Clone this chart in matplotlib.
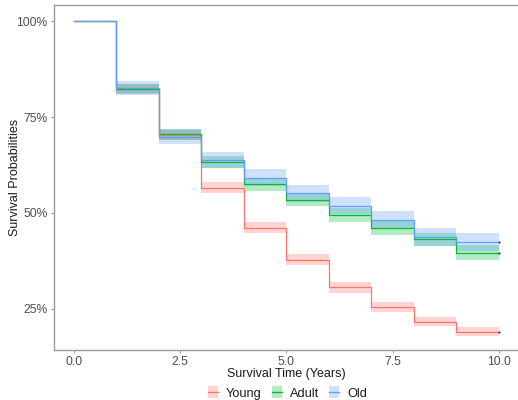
import matplotlib
matplotlib.use("Agg")
import matplotlib.pyplot as plt
import numpy as np
from matplotlib.lines import Line2D
from matplotlib.patches import Patch
from matplotlib.ticker import FuncFormatter

plt.rcParams["font.family"] = ["Liberation Sans", "DejaVu Sans"]

# step start times (years)
times = [0, 1, 2, 3, 4, 5, 6, 7, 8, 9, 10]

groups = ["Young", "Adult", "Old"]
colors = ["#F8766D", "#00BA38", "#619CFF"]

# survival (%) on each interval [t, t+1)
young = [100, 82.5, 70.2, 56.6, 46.2, 37.8, 30.6, 25.6, 21.7, 19.1]
adult = [100, 82.2, 70.5, 63.2, 57.5, 53.4, 49.5, 46.0, 43.1, 39.7]
old = [100, 82.6, 69.9, 63.8, 59.2, 55.1, 51.9, 48.2, 43.7, 42.4]

# half width of confidence band (%)
young_ci = [0, 1.2, 1.3, 1.4, 1.4, 1.4, 1.4, 1.3, 1.2, 1.2]
adult_ci = [0, 1.3, 1.5, 1.6, 1.7, 1.7, 1.8, 1.8, 1.8, 1.9]
old_ci = [0, 1.8, 2.0, 2.0, 2.2, 2.2, 2.2, 2.2, 2.3, 2.3]

series = [young, adult, old]
cis = [young_ci, adult_ci, old_ci]

fig = plt.figure(figsize=(5.18, 4.0), dpi=100)
ax = fig.add_axes([0.1042, 0.125, 0.8958, 0.8625])

for vals, ci, col in zip(series, cis, colors):
    v = np.array(vals + [vals[-1]], dtype=float)
    c = np.array(ci + [ci[-1]], dtype=float)
    ax.fill_between(times, v - c, v + c, step="post", color=col,
                    alpha=0.3, linewidth=0)
    ax.step(times, v, where="post", color=col, linewidth=0.9)
    ax.plot([times[-1]], [v[-1]], marker="o", color="#333333",
            markersize=1.5, markeredgewidth=0)

ax.set_xlim(-0.47, 10.45)
ax.set_ylim(14.3, 104.2)
ax.set_xticks([0, 2.5, 5, 7.5, 10])
ax.set_xticklabels(["0.0", "2.5", "5.0", "7.5", "10.0"])
ax.set_yticks([25, 50, 75, 100])
ax.yaxis.set_major_formatter(FuncFormatter(lambda y, p: "%d%%" % y))

for s in ["left", "bottom", "top"]:
    ax.spines[s].set_color("#9a9a9a")
    ax.spines[s].set_linewidth(1.0)
ax.spines["right"].set_visible(False)
ax.tick_params(colors="#4D4D4D", labelsize=8.7, length=2.5, width=0.8,
               pad=2)
ax.tick_params(axis="both", color="#9a9a9a")

ax.set_xlabel("Survival Time (Years)", fontsize=9, color="#1a1a1a",
              labelpad=0)
fig.text(0.028, 0.5575, "Survival Probabilities", rotation=90,
         ha="center", va="center", fontsize=9, color="#1a1a1a")

handles = [(Patch(facecolor=c, alpha=0.3, linewidth=0),
            Line2D([], [], color=c, linewidth=1.0)) for c in colors]
fig.legend(handles, groups, loc="center", ncol=3, frameon=False,
           bbox_to_anchor=(0.555, 0.0175), fontsize=9.2, handlelength=0.8,
           handleheight=1.0, handletextpad=0.6, columnspacing=0.8,
           labelcolor="#1a1a1a", borderpad=0)

fig.savefig("out.png", dpi=100)
